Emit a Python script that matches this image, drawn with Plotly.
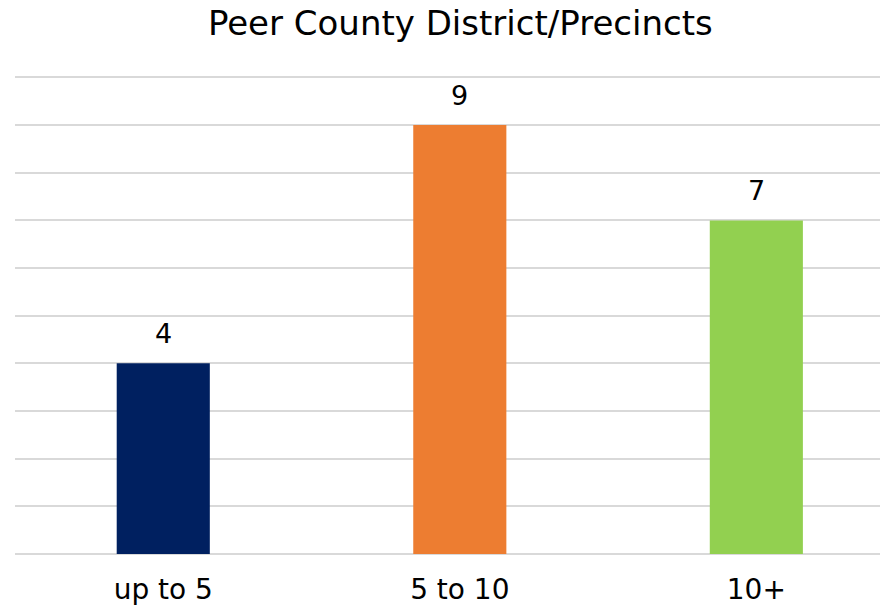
import plotly.graph_objects as go

categories = ["up to 5", "5 to 10", "10+"]
values = [4, 9, 7]
colors = ["#002060", "#ED7D31", "#92D050"]
title_text = "Peer County District/Precincts"

FONT = "DejaVu Sans"

fig = go.Figure(go.Bar(
    x=categories, y=values,
    marker=dict(color=colors, line=dict(width=0)),
    width=0.314,
    hoverinfo="x+y",
))

for c, v in zip(categories, values):
    fig.add_annotation(x=c, y=v, text=str(v), showarrow=False,
                       yanchor="bottom", yshift=12,
                       font=dict(family=FONT, size=27, color="#000000"))

fig.update_layout(
    width=880, height=602,
    paper_bgcolor="white", plot_bgcolor="white",
    margin=dict(l=7, r=0, t=68, b=56, autoexpand=False),
    title=dict(text=title_text, x=0.514, xanchor="center", y=0.975, yanchor="middle",
               font=dict(family=FONT, size=34, color="#000000")),
    showlegend=False,
    font=dict(family=FONT, color="#000000"),
)
fig.update_xaxes(range=[-0.5, 2.444], showgrid=False, showline=False, ticks="",
                 ticklabelstandoff=16,
                 tickfont=dict(family=FONT, size=28, color="#000000"))
fig.update_yaxes(range=[0, 10.03], dtick=1, showgrid=True, gridcolor="#D9D9D9", gridwidth=1.5,
                 showticklabels=False, zeroline=True, zerolinecolor="#D9D9D9", zerolinewidth=1.5,
                 showline=False)

fig.write_html("out.html")
